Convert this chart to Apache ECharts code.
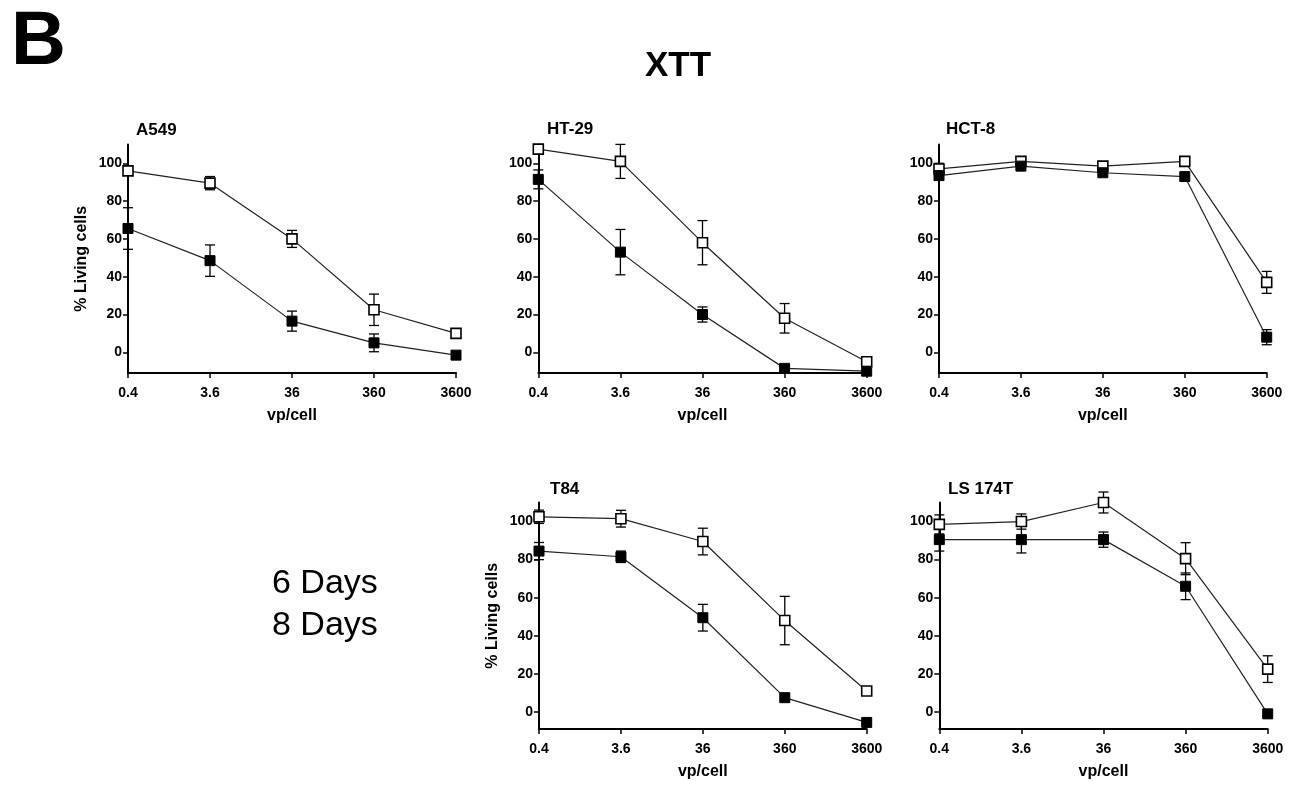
<!DOCTYPE html>
<html>
<head>
<meta charset="utf-8">
<script src="https://cdn.jsdelivr.net/npm/echarts@6/dist/echarts.min.js"></script>
<style>html,body{margin:0;padding:0;background:#fff}#c{width:1296px;height:786px}</style>
</head>
<body>
<div id="c"></div>
<script>
// ---- data ----
const doseTicks = ['0.4', '3.6', '36', '360', '3600'];
const yTicks = [0, 20, 40, 60, 80, 100];
const panelNames = ['A549', 'HT-29', 'HCT-8', 'T84', 'LS 174T'];
const seriesNames = ['6 Days', '8 Days'];

const a549_6d = [96, 89.5, 60, 22.5, 10];
const a549_6d_err = [2, 3.5, 4.5, 8.3, 2];
const a549_8d = [65.5, 48.5, 16.5, 5, -1.5];
const a549_8d_err = [11, 8.3, 5.3, 4.7, 0];

const ht29_6d = [107.5, 101, 58, 18, -5];
const ht29_6d_err = [2, 9, 11.7, 7.8, 1];
const ht29_8d = [91.5, 53, 20, -8.5, -10];
const ht29_8d_err = [5, 12, 4, 0, 0];

const hct8_6d = [97, 101, 98.5, 101, 37];
const hct8_6d_err = [3, 1.5, 1.5, 1.5, 5.8];
const hct8_8d = [93.5, 98.5, 95, 93, 8];
const hct8_8d_err = [2, 1.5, 1.5, 1, 4];

const t84_6d = [102.5, 101.5, 89.5, 48, 11];
const t84_6d_err = [3.5, 4.4, 7, 12.7, 1.5];
const t84_8d = [84.5, 81.5, 49.5, 7.5, -5.5];
const t84_8d_err = [4.5, 3, 7, 1, 1];

const ls174t_6d = [98.5, 100, 110, 80.5, 22.5];
const ls174t_6d_err = [5, 4, 5.5, 8.4, 7];
const ls174t_8d = [90.5, 90.5, 90.5, 66, -1];
const ls174t_8d_err = [6, 7, 4, 7, 1];

const panelData = [
  [a549_6d, a549_6d_err, a549_8d, a549_8d_err],
  [ht29_6d, ht29_6d_err, ht29_8d, ht29_8d_err],
  [hct8_6d, hct8_6d_err, hct8_8d, hct8_8d_err],
  [t84_6d, t84_6d_err, t84_8d, t84_8d_err],
  [ls174t_6d, ls174t_6d_err, ls174t_8d, ls174t_8d_err]
];

// ---- layout ----
const FONT = '"Liberation Sans", Arial, sans-serif';
const grids = [
  {left: 128, top: 144.4, width: 328, height: 228.7, yMin: -11, name: true},
  {left: 538.3, top: 144.4, width: 328.4, height: 228.7, yMin: -11, name: false},
  {left: 939, top: 144.4, width: 327.7, height: 228.7, yMin: -11, name: false},
  {left: 539, top: 502.5, width: 327.7, height: 226.6, yMin: -9, name: true},
  {left: 939.3, top: 502.5, width: 328.4, height: 226.6, yMin: -9, name: false}
];
const titlePos = [[131, 117], [542, 116], [941, 116], [545, 476], [943, 476]];

const option = {
  animation: false,
  backgroundColor: '#fff',
  title: [
    {text: 'B', left: 6, top: 0, textStyle: {fontFamily: FONT, fontSize: 76, fontWeight: 'bold', color: '#000'}},
    {text: 'XTT', left: 640, top: 44, textStyle: {fontFamily: FONT, fontSize: 35, fontWeight: 'bold', color: '#000'}}
  ].concat(panelNames.map((n, i) => ({
    text: n, left: titlePos[i][0], top: titlePos[i][1],
    textStyle: {fontFamily: FONT, fontSize: 17, fontWeight: 'bold', color: '#000'}
  }))),
  legend: {
    orient: 'vertical', left: 262, top: 562, itemGap: 8, itemWidth: 0, itemHeight: 0,
    selectedMode: false,
    data: seriesNames.map(n => ({name: n, icon: 'none'})),
    textStyle: {fontFamily: FONT, fontSize: 34, color: '#000'}
  },
  grid: grids.map(g => ({left: g.left, top: g.top, width: g.width, height: g.height})),
  xAxis: grids.map((g, i) => ({
    type: 'category', gridIndex: i, data: doseTicks, boundaryGap: false,
    name: 'vp/cell', nameLocation: 'middle', nameGap: 34,
    nameTextStyle: {fontFamily: FONT, fontSize: 16, fontWeight: 'bold', color: '#000'},
    axisLine: {onZero: false, lineStyle: {color: '#000', width: 2}},
    axisTick: {length: 5, lineStyle: {color: '#000', width: 1.5}},
    axisLabel: {fontFamily: FONT, fontSize: 14, fontWeight: 'bold', color: '#000', margin: 13},
    splitLine: {show: false}
  })),
  yAxis: grids.map((g, i) => ({
    type: 'value', gridIndex: i, min: g.yMin, max: 110,
    name: g.name ? '% Living cells' : '', nameLocation: 'middle', nameGap: 38, nameRotate: 90,
    nameTextStyle: {fontFamily: FONT, fontSize: 16, fontWeight: 'bold', color: '#000'},
    axisLine: {show: true, onZero: false, lineStyle: {color: '#000', width: 2}},
    axisTick: {show: true, length: 5, customValues: yTicks, lineStyle: {color: '#000', width: 1.5}},
    axisLabel: {customValues: yTicks, fontFamily: FONT, fontSize: 14, fontWeight: 'bold', color: '#000', margin: 6},
    splitLine: {show: false}
  })),
  series: []
};

function errRender(params, api) {
  const x = api.value(0), y = api.value(1), e = api.value(2);
  if (!e) return null;
  const hi = api.coord([x, y + e]);
  const lo = api.coord([x, y - e]);
  const w = 5;
  const st = {stroke: '#000', lineWidth: 1.3};
  return {
    type: 'group',
    children: [
      {type: 'line', shape: {x1: hi[0], y1: hi[1], x2: lo[0], y2: lo[1]}, style: st},
      {type: 'line', shape: {x1: hi[0] - w, y1: hi[1], x2: hi[0] + w, y2: hi[1]}, style: st},
      {type: 'line', shape: {x1: lo[0] - w, y1: lo[1], x2: lo[0] + w, y2: lo[1]}, style: st}
    ]
  };
}

panelData.forEach((pd, i) => {
  const [v6, e6, v8, e8] = pd;
  [[v6, e6, seriesNames[0], true], [v8, e8, seriesNames[1], false]].forEach(([vals, errs, nm, open]) => {
    option.series.push({
      type: 'custom', name: nm + ' error', xAxisIndex: i, yAxisIndex: i, z: 2,
      renderItem: errRender, encode: {x: 0, y: 1},
      data: vals.map((v, k) => [k, v, errs[k]]), silent: true
    });
    option.series.push({
      type: 'line', name: nm, xAxisIndex: i, yAxisIndex: i, z: 3,
      data: vals, symbol: 'rect', symbolSize: 10, showSymbol: true,
      itemStyle: open ? {color: '#fff', borderColor: '#000', borderWidth: 1.6} : {color: '#000', borderColor: '#000', borderWidth: 1},
      lineStyle: {color: '#222', width: 1.2},
      clip: false
    });
  });
});

const chart = echarts.init(document.getElementById('c'), null, {renderer: 'canvas'});
chart.setOption(option);
</script>
</body>
</html>
